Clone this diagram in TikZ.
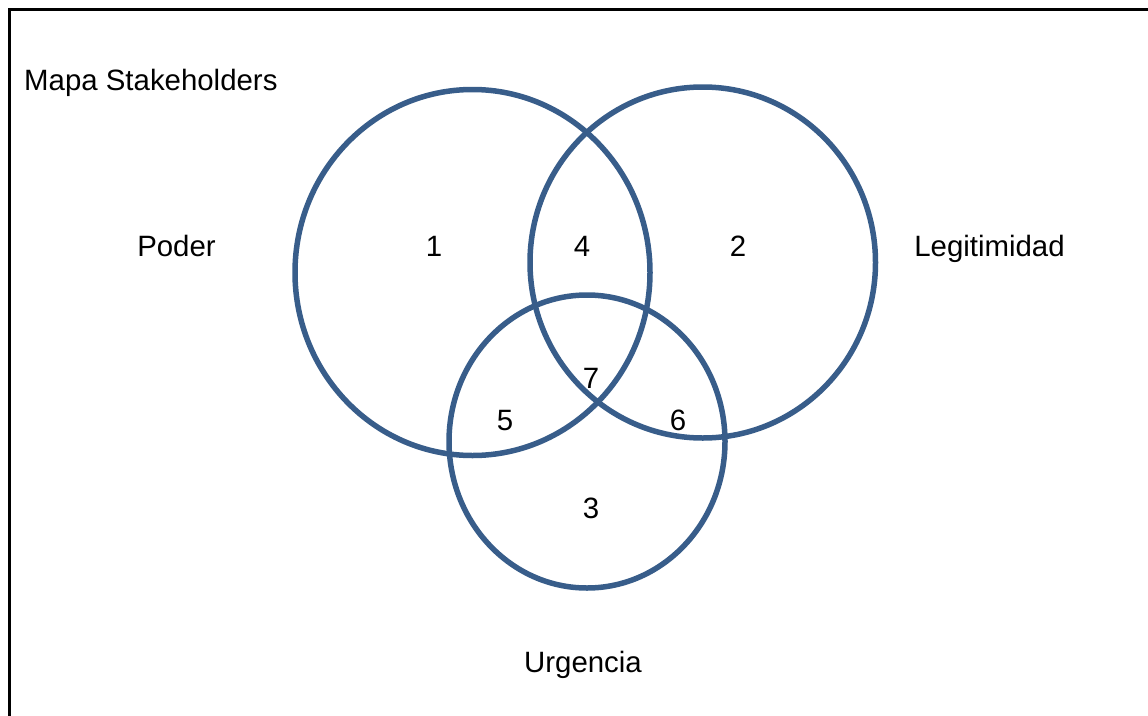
\documentclass[tikz,border=0pt]{standalone}
\usepackage{fontspec}
\setmainfont{Liberation Sans}
\definecolor{setblue}{HTML}{385D8A}
\begin{document}
\begin{tikzpicture}[x=1pt,y=-1pt,
  setring/.style={draw=setblue,line width=5.5pt},
  lbl/.style={anchor=base,inner sep=0pt,font=\fontsize{29.4}{35}\selectfont},
  frame/.style={draw=black,line width=3pt}]
\useasboundingbox (0,0) rectangle (1148,715);
\begin{scope}
\clip (0,0) rectangle (1148,715);
\draw[frame] (9.5,9.5) rectangle (1170,740);
\end{scope}
% three sets
\draw[setring] (472.5,272.5) ellipse [x radius=177.5pt, y radius=183pt];
\draw[setring] (702.75,262.5) ellipse [x radius=172.75pt, y radius=175.5pt];
\draw[setring] (587,441.5) ellipse [x radius=138pt, y radius=146.5pt];
% labels
\node[lbl,anchor=base west] (title) at (24,90.5) {Mapa Stakeholders};
\node[lbl] (poder) at (176.5,256.5) {Poder};
\node[lbl] (legit) at (989.5,256.5) {Legitimidad};
\node[lbl] (urg) at (583,672) {Urgencia};
\node[lbl] (r1) at (434,256.5) {1};
\node[lbl] (r4) at (582,256.5) {4};
\node[lbl] (r2) at (738,256.5) {2};
\node[lbl] (r7) at (591,388.5) {7};
\node[lbl] (r5) at (505,430.5) {5};
\node[lbl] (r6) at (678,430.5) {6};
\node[lbl] (r3) at (591,518.5) {3};
\end{tikzpicture}
\end{document}
